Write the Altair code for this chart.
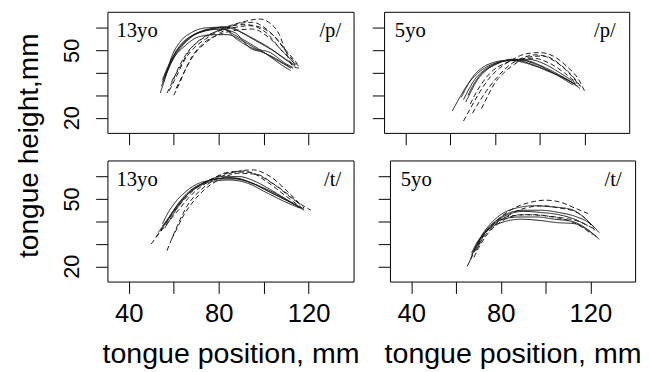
import altair as alt
import pandas as pd

# ---------------- data ----------------
ages = ["13yo", "5yo", "13yo", "5yo"]
sounds = ["/p/", "/p/", "/t/", "/t/"]
x_ticks = [40, 60, 80, 100, 120]
y_ticks = [20, 30, 40, 50, 60]

# 13yo /p/
tl_solid_x = [[54, 56, 59, 63, 68, 74, 81, 86, 94, 101, 108, 112],
              [55, 57, 60, 64, 69, 75, 82, 88, 95, 103, 110, 113],
              [56, 58, 61, 66, 72, 79, 85, 90, 97, 104, 111, 114],
              [54.5, 57, 60, 65, 71, 78, 84, 91, 98, 106, 112],
              [55, 58, 62, 67, 73, 80, 87, 94, 100, 107, 113],
              [56, 59, 63, 68, 75, 82, 88, 95, 102, 110, 114]]
tl_solid_y = [[31, 37, 47, 54, 58, 60, 60.3, 57.5, 53, 48.5, 43.5, 41],
              [36, 41, 48, 53.5, 57, 59, 59.5, 55, 51, 49, 44, 42.5],
              [38, 43, 49, 55, 58.5, 60, 60.5, 58, 54, 50, 45, 43],
              [34, 40, 46.5, 52, 56, 57, 57, 54, 50, 46, 42],
              [37, 44, 50.5, 55.5, 58.5, 59.5, 58, 51, 49, 45, 42],
              [39, 45, 51, 56, 59, 60.5, 59, 55.5, 51.5, 46, 43.5]]
tl_dash_x = [[57, 59, 62, 66, 71, 77, 85, 92, 98, 103, 107, 110, 113, 116],
             [58, 61, 65, 70, 74, 83, 91, 98, 105, 111, 116],
             [60, 62, 65, 69, 75, 81, 89, 95, 103, 110, 115],
             [59, 63, 67, 72, 78, 86, 94, 101, 108, 114],
             [61, 64, 68, 73, 80, 88, 95, 102, 109, 115]]
tl_dash_y = [[31, 35, 42, 49, 54, 57.5, 61, 63, 64, 62, 57, 49, 43, 42],
             [32, 38, 46, 52, 55, 60, 61.5, 60.5, 56, 48, 42.5],
             [30, 34, 41, 48, 54, 58, 62, 62.5, 58, 50, 44],
             [36, 43, 50, 55, 58, 60, 61, 58, 50, 44],
             [33, 39, 47, 53, 57, 59, 59.5, 56, 49, 43]]

# 5yo /p/
tr_solid_x = [[61, 64, 68, 72, 77, 83, 89, 96, 103, 110, 116],
              [66, 68, 71, 75, 80, 86, 92, 99, 106, 112, 117],
              [67, 69, 72, 76, 81, 87, 94, 101, 108, 114, 118],
              [65, 67, 70, 74, 79, 85, 91, 98, 105, 111, 115],
              [68, 70, 73, 77, 82, 88, 95, 102, 109, 116]]
tr_solid_y = [[23, 28.5, 35, 39.5, 43, 45, 45.5, 44, 41, 38, 35],
              [28, 32, 37, 41, 44, 45.5, 45.5, 43.5, 40, 37, 34],
              [27, 31, 36.5, 41, 44, 46, 45.5, 43, 39.5, 36, 33],
              [29, 33, 38, 42, 44.5, 45.5, 45, 43, 40.5, 37, 34.5],
              [30, 34, 38.5, 42, 44.5, 46, 46, 44, 40, 35.5]]
tr_dash_x = [[66, 69, 73, 77, 82, 88, 94, 100, 106, 112, 118, 120],
             [70, 73, 77, 81, 86, 92, 98, 104, 110, 116, 119],
             [74, 77, 80, 84, 89, 95, 101, 107, 113, 118],
             [69, 71, 74, 78, 84, 90, 97, 104, 111, 117]]
tr_dash_y = [[18.5, 24, 31, 37, 42, 46, 48.5, 49, 47.5, 43, 36, 32],
             [22, 27, 33, 38, 43, 46.5, 48, 47, 43, 37, 33],
             [24, 30, 35.5, 40, 44, 47, 47.5, 45, 40, 34],
             [26, 30, 35, 40, 44, 46, 46.5, 44.5, 40, 35]]

# 13yo /t/
bl_solid_x = [[54, 57, 61, 66, 72, 79, 86, 94, 102, 110, 117],
              [55, 58, 62, 67, 73, 80, 88, 96, 104, 112, 118],
              [53, 56, 60, 65, 71, 78, 85, 93, 101, 109, 116],
              [56, 59, 63, 68, 74, 81, 89, 97, 105, 113, 118],
              [55, 57, 61, 65, 70, 77, 84, 92, 100, 108, 115]]
bl_solid_y = [[36, 40, 46, 52, 56.5, 59, 59.5, 57.5, 53.5, 49.5, 46],
              [38, 42, 48, 53.5, 57, 59, 59, 56.5, 52.5, 48.5, 45.5],
              [35, 39, 45, 51, 55.5, 58, 58.5, 57, 53, 49, 46],
              [37, 42, 48, 54, 57.5, 60, 60, 57.5, 53, 48, 45],
              [39, 43, 49, 53, 56.5, 58.5, 59.5, 58, 55, 51, 47]]
bl_dash_x = [[50, 53, 57, 62, 68, 75, 82, 90, 98, 106, 113, 121],
             [57, 59, 62, 66, 72, 79, 87, 95, 103, 110, 116],
             [52, 55, 59, 64, 70, 77, 85, 93, 101, 109, 117],
             [59, 61, 64, 68, 74, 81, 89, 97, 104, 111, 118]]
bl_dash_y = [[30, 34, 39, 45, 52, 57.5, 61, 62.5, 60.5, 55.5, 50, 45],
             [27, 32, 39, 47, 54, 59, 62, 63, 60, 54, 48],
             [33, 37, 43, 49, 55, 59, 62, 62, 58, 52, 46],
             [32, 36, 42, 48, 54.5, 59, 61.5, 61, 57, 52, 46]]

# 5yo /t/
br_solid_x = [[66, 68, 71, 75, 80, 87, 95, 103, 111, 117, 122],
              [67, 69, 72, 76, 81, 88, 96, 104, 112, 118, 124],
              [68, 70, 73, 77, 83, 90, 98, 106, 114, 120, 124],
              [67, 69, 72, 76, 82, 89, 97, 105, 113, 119, 123],
              [69, 71, 74, 78, 83, 90, 98, 106, 113, 119]]
br_solid_y = [[22, 27, 33, 38.5, 43, 46, 47, 46.5, 45.5, 42, 37],
              [25, 29, 34, 38, 41, 42, 42, 41, 40, 37, 32],
              [27, 31, 35.5, 39.5, 43.5, 45, 45, 44, 42, 39, 35],
              [26, 30, 34, 37.5, 40, 41, 40.5, 39.5, 39, 36, 33],
              [28, 32, 36, 40, 43, 44.5, 44, 43, 41, 38]]
br_dash_x = [[65, 68, 71, 75, 80, 86, 93, 100, 107, 113, 119],
             [68, 70, 73, 77, 82, 89, 96, 103, 110, 117, 121],
             [69, 71, 74, 78, 84, 91, 99, 106, 113, 119, 122],
             [70, 72, 75, 79, 85, 92, 100, 108, 115, 121]]
br_dash_y = [[20, 26, 32, 37.5, 42, 46, 48.5, 49.5, 48.5, 46, 43.5],
             [24, 28, 33, 37.5, 41, 43, 43, 42, 40.5, 37, 34],
             [27, 31, 35, 39, 43, 46, 47, 46, 44.5, 40, 36],
             [29, 33, 37, 40.5, 42.5, 43, 42.5, 41.5, 40, 37]]

label_x_left = [34.5, 35.3, 34.5, 35.3]
label_x_right = [134.5, 134.0, 134.5, 134.0]
label_y = 56

X_DOMAIN = [30.5, 140]
Y_DOMAIN = [13.2, 67.2]


def frame(sx, sy, dx, dy):
    rows = []
    for style, XS, YS in (("solid", sx, sy), ("dashed", dx, dy)):
        for c, (xs, ys) in enumerate(zip(XS, YS)):
            for i, (a, b) in enumerate(zip(xs, ys)):
                rows.append({"curve": f"{style}{c}", "style": style, "i": i, "x": a, "y": b})
    return pd.DataFrame(rows)


frames = [frame(tl_solid_x, tl_solid_y, tl_dash_x, tl_dash_y),
          frame(tr_solid_x, tr_solid_y, tr_dash_x, tr_dash_y),
          frame(bl_solid_x, bl_solid_y, bl_dash_x, bl_dash_y),
          frame(br_solid_x, br_solid_y, br_dash_x, br_dash_y)]

LABEL_FONT = "Liberation Sans"
SERIF = "Liberation Serif"


def panel(k, show_xlabels, show_ylabels, width):
    df = frames[k]
    xaxis_kw = dict(values=x_ticks, tickCount=20, title=None, labels=show_xlabels, labelOverlap=False,
                    labelExpr="datum.value % 40 == 0 ? datum.label : ''")
    if show_xlabels:
        xaxis_kw["title"] = "tongue position, mm"
    yaxis_kw = dict(values=y_ticks, tickCount=20, title=None, labels=show_ylabels, labelOverlap=False,
                    labelExpr="datum.value == 20 || datum.value == 50 ? datum.label : ''")
    x = alt.X("x:Q", scale=alt.Scale(domain=X_DOMAIN, nice=False, zero=False),
              axis=alt.Axis(**xaxis_kw))
    y = alt.Y("y:Q", scale=alt.Scale(domain=Y_DOMAIN, nice=False, zero=False),
              axis=alt.Axis(**yaxis_kw))
    lines = alt.Chart(df).mark_line(color="#1a1a1a", strokeWidth=1, interpolate="monotone").encode(
        x=x, y=y,
        detail="curve:N",
        order="i:Q",
        strokeDash=alt.StrokeDash("style:N",
                                  scale=alt.Scale(domain=["solid", "dashed"], range=[[1, 0], [5, 3]]),
                                  legend=None),
    )
    left = alt.Chart(pd.DataFrame({"t": [ages[k]]})).mark_text(
        font=SERIF, fontSize=21, align="left", baseline="alphabetic", color="black"
    ).encode(x=alt.datum(label_x_left[k]), y=alt.datum(label_y), text="t:N")
    right = alt.Chart(pd.DataFrame({"t": [sounds[k]]})).mark_text(
        font=SERIF, fontSize=21, align="right", baseline="alphabetic", color="black"
    ).encode(x=alt.datum(label_x_right[k]), y=alt.datum(label_y), text="t:N")
    return alt.layer(lines, left, right).properties(width=width, height=123)


TL = panel(0, False, True, 250)
TR = panel(1, False, False, 249)
BL = panel(2, True, True, 250)
BR = panel(3, True, False, 249)

grid = alt.vconcat(alt.hconcat(TL, TR, spacing=17), alt.hconcat(BL, BR, spacing=17), spacing=14)

ytitle = alt.Chart(pd.DataFrame({"t": ["tongue height,mm"]})).mark_text(
    angle=270, fontSize=28.5, font=LABEL_FONT, color="black", align="center", baseline="middle"
).encode(text="t:N", x=alt.value(20), y=alt.value(136)).properties(
    width=40, height=272, view=alt.ViewBackground(stroke="transparent"))

chart = alt.hconcat(ytitle, grid, spacing=11).properties(padding=0).configure_view(
    stroke="black", strokeWidth=1
).configure_axis(
    domain=False, grid=False, tickColor="black", tickSize=12, tickWidth=1,
    labelFont=LABEL_FONT, labelColor="black", titleFont=LABEL_FONT, titleColor="black",
    titleFontWeight="normal", labelFontSize=26, titleFontSize=29, labelPadding=8, titlePadding=13,
).configure_axisY(
    labelAngle=270, labelAlign="center", labelBaseline="bottom", labelFontSize=22, labelPadding=12,
)

chart.save("out.html", embed_options={"renderer": "svg", "actions": False})
